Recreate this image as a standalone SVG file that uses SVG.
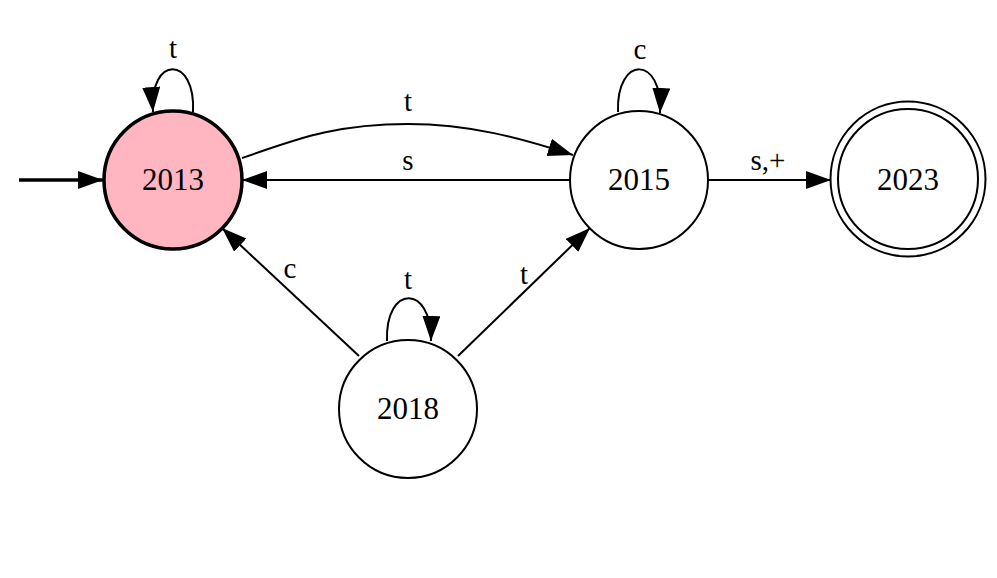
<svg xmlns="http://www.w3.org/2000/svg" width="997" height="578" viewBox="0 0 997 578">
<defs>
<marker id="ah" markerUnits="userSpaceOnUse" markerWidth="30" markerHeight="24" refX="25" refY="9" orient="auto">
<path d="M0,0 L25,9 L0,18 Z" fill="#000"/>
</marker>
</defs>
<style>
.n{fill:#fff;stroke:#000;stroke-width:2}
.e{fill:none;stroke:#000;stroke-width:2;marker-end:url(#ah)}
text{font-family:"Liberation Serif","Times New Roman",serif;font-size:29px;fill:#000;text-anchor:middle}
.nl{font-size:31px}
</style>
<rect width="997" height="578" fill="#fff"/>
<g id="connectors">
<path class="e" d="M19,180 L103,180" style="stroke-width:3.5"/>
<path class="e" d="M193,112 C196,55 149,55 153,112"/>
<text x="173" y="58">t</text>
<path class="e" d="M618,112 C616,55 663,55 660,113"/>
<text x="640" y="59">c</text>
<path class="e" d="M387,341 C385,284 432,284 431,341"/>
<text x="408" y="289">t</text>
<path class="e" d="M242,158 C290,142 330,124 408,124 C470,124 520,138 573,155"/>
<text x="408" y="111">t</text>
<path class="e" d="M570,180 L242,180"/>
<text x="408" y="170">s</text>
<path class="e" d="M708,180 L831,180"/>
<text x="768" y="170">s,+</text>
<path class="e" d="M359,356 L222,228"/>
<text x="290" y="278">c</text>
<path class="e" d="M458,356 L590,228"/>
<text x="524" y="284">t</text>
</g>
<g id="n2013">
<circle cx="173" cy="180" r="69" fill="#ffb6c1" stroke="#000" stroke-width="3.5"/>
<text class="nl" x="173" y="190">2013</text>
</g>
<g id="n2015">
<circle class="n" cx="639" cy="180" r="69"/>
<text class="nl" x="639" y="190">2015</text>
</g>
<g id="n2023">
<circle class="n" cx="908" cy="179" r="77.5"/>
<circle class="n" cx="908" cy="179" r="70"/>
<text class="nl" x="908" y="190">2023</text>
</g>
<g id="n2018">
<circle class="n" cx="408" cy="409" r="69"/>
<text class="nl" x="408" y="419">2018</text>
</g>
</svg>
